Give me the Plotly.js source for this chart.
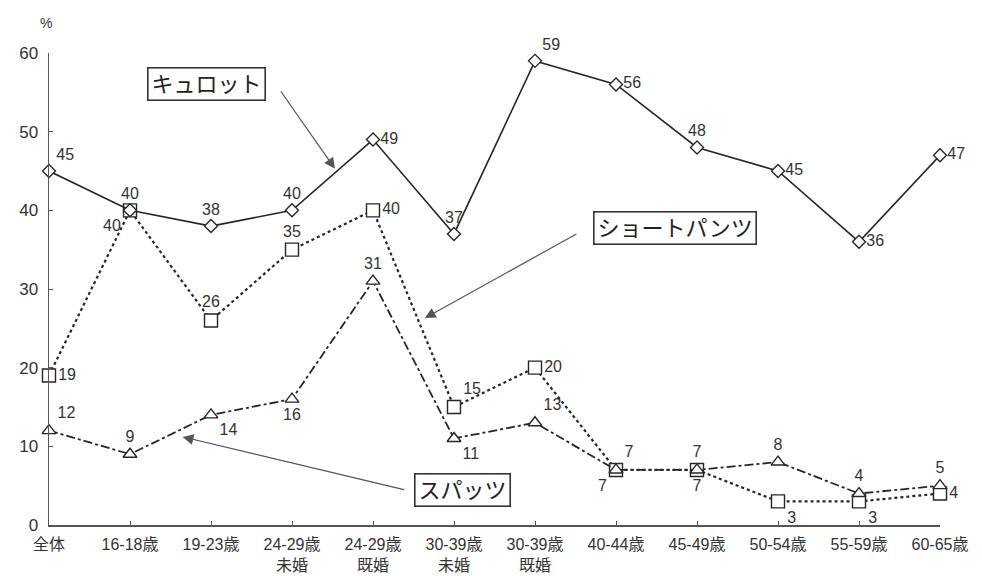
<!DOCTYPE html>
<html>
<head>
<meta charset="utf-8">
<script src="https://cdn.plot.ly/plotly-3.0.1.min.js"></script>
<style>
  html, body { margin: 0; padding: 0; background: #fff; }
  #chart { width: 982px; height: 576px; }
</style>
</head>
<body>
<div id="chart"></div>
<script>
// Age groups along the horizontal axis
const categories = ['全体', '16-18歳', '19-23歳', '24-29歳<br>未婚', '24-29歳<br>既婚',
  '30-39歳<br>未婚', '30-39歳<br>既婚', '40-44歳', '45-49歳', '50-54歳', '55-59歳', '60-65歳'];

// Share (%) for each item
const culotte = [45, 40, 38, 40, 49, 37, 59, 56, 48, 45, 36, 47];
const shortPants = [19, 40, 26, 35, 40, 15, 20, 7, 7, 3, 3, 4];
const spats = [12, 9, 14, 16, 31, 11, 13, 7, 7, 8, 4, 5];

const yTicks = [0, 10, 20, 30, 40, 50, 60];

const xIdx = categories.map((_, i) => i);
const ink = '#262626';
const numFamily = 'Liberation Sans, Arial, sans-serif';
const numFont = { family: numFamily, size: 16, color: '#333' };
const jpFont = 'Liberation Sans, "Noto Sans CJK JP", sans-serif';

function series(name, values, dash, width, symbol, size, positions) {
  return {
    type: 'scatter',
    mode: 'lines+markers+text',
    name: name,
    x: xIdx,
    y: values,
    text: values.map(String),
    textposition: positions,
    textfont: numFont,
    cliponaxis: false,
    line: { color: ink, width: width, dash: dash },
    marker: { symbol: symbol, size: size, color: '#fff', line: { color: ink, width: 1.4 } },
    hoverinfo: 'skip'
  };
}

const traces = [
  series('ショートパンツ', shortPants, 'dot', 2.2, 'square', 13,
    ['middle right', 'bottom left', 'top center', 'top center', 'middle right', 'top right',
     'middle right', 'bottom left', 'bottom center', 'bottom right', 'bottom right', 'middle right']),
  series('スパッツ', spats, 'dashdot', 1.8, 'triangle-up', 12,
    ['top right', 'top center', 'bottom right', 'bottom center', 'top center', 'bottom right',
     'top right', 'top right', 'top center', 'top center', 'top center', 'top center']),
  series('キュロット', culotte, 'solid', 1.6, 'diamond', 10,
    ['top right', 'top center', 'top center', 'top center', 'middle right', 'top center',
     'top right', 'middle right', 'top center', 'middle right', 'middle right', 'middle right'])
];

function boxLabel(text, x, y) {
  return {
    x: x, y: y, xref: 'x', yref: 'y', text: text, showarrow: false,
    font: { family: jpFont, size: 22, color: '#222' },
    bordercolor: '#333', borderwidth: 1.6, borderpad: 3, bgcolor: '#fff'
  };
}

function pointer(x0, y0, x1, y1) {
  return {
    x: x1, y: y1, ax: x0, ay: y0, xref: 'x', yref: 'y', axref: 'x', ayref: 'y',
    text: '', showarrow: true, arrowhead: 2, arrowsize: 1.8, arrowwidth: 1.2,
    arrowcolor: '#555', standoff: 0
  };
}

const layout = {
  width: 982,
  height: 576,
  margin: { l: 49, r: 42, t: 53, b: 51 },
  paper_bgcolor: '#fff',
  plot_bgcolor: '#fff',
  showlegend: false,
  font: { family: jpFont, color: '#333' },
  xaxis: {
    range: [0, 11],
    tickvals: xIdx,
    ticktext: categories,
    tickfont: { family: jpFont, size: 16, color: '#333' },
    ticklabelstandoff: 4,
    showgrid: false,
    zeroline: false,
    showline: true,
    linecolor: '#555',
    linewidth: 1.5,
    ticks: 'inside',
    ticklen: 4,
    tickcolor: '#555'
  },
  yaxis: {
    range: [0, 60],
    tickvals: yTicks,
    ticktext: yTicks.map(String),
    tickfont: { family: numFamily, size: 17, color: '#333' },
    ticklabelstandoff: 6,
    showgrid: false,
    zeroline: false,
    showline: true,
    linecolor: '#555',
    linewidth: 1.5,
    ticks: 'inside',
    ticklen: 4,
    tickcolor: '#555'
  },
  annotations: [
    { xref: 'paper', yref: 'paper', x: -0.012, y: 1.085, text: '%', showarrow: false,
      font: { family: numFamily, size: 14, color: '#333' } },
    pointer(2.85, 55.3, 3.53, 45.3),
    pointer(6.53, 37.1, 4.64, 26.3),
    pointer(4.40, 4.45, 1.65, 11.2),
    boxLabel('キュロット', 1.95, 56.0),
    boxLabel('ショートパンツ', 7.73, 37.7),
    boxLabel('スパッツ', 5.11, 4.45)
  ]
};

Plotly.newPlot('chart', traces, layout, { displayModeBar: false, staticPlot: true });
</script>
</body>
</html>
